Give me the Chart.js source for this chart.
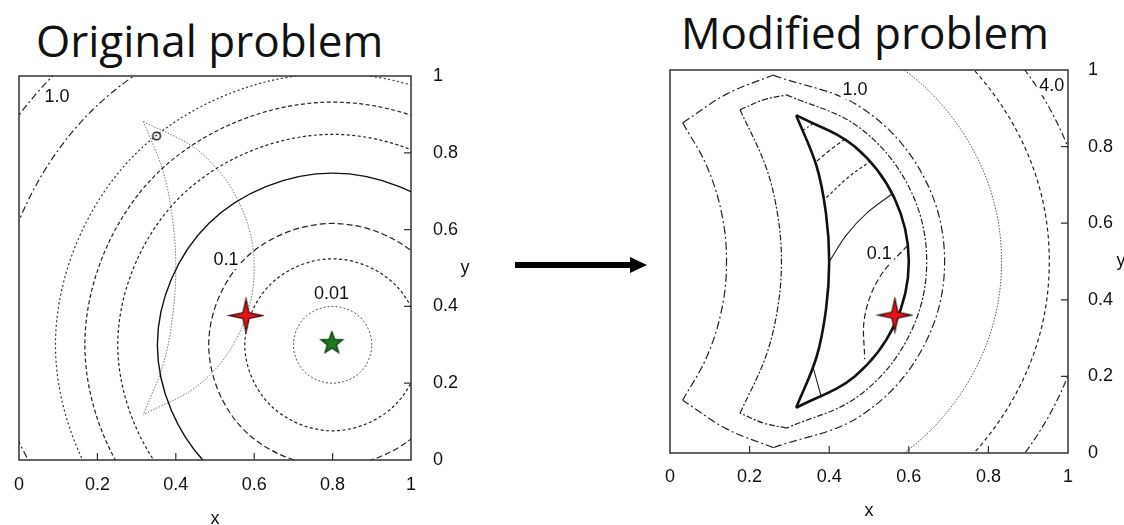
<!DOCTYPE html>
<html>
<head>
<meta charset="utf-8">
<script src="https://cdn.jsdelivr.net/npm/chart.js@4.4.1/dist/chart.umd.min.js"></script>
<style>
  body { margin: 0; width: 1124px; height: 525px; background: #fff; overflow: hidden; position: relative; }
  .title { position: absolute; font-family: "Open Sans", sans-serif; font-size: 44px; line-height: 1; color: #111; white-space: nowrap; }
  canvas { position: absolute; }
  #arrowShaft { position: absolute; left: 515px; top: 262px; width: 118px; height: 6px; background: #000; }
  #arrowHead { position: absolute; left: 630px; top: 257px; width: 0; height: 0;
    border-top: 8px solid transparent; border-bottom: 8px solid transparent; border-left: 17px solid #000; }
</style>
</head>
<body>
<div class="title" style="left:36px; top:18px">Original problem</div>
<div class="title" style="left:681px; top:10px">Modified problem</div>
<div id="arrowShaft"></div><div id="arrowHead"></div>
<canvas id="origChart" width="480" height="475" style="left:0; top:60px"></canvas>
<canvas id="modChart" width="484" height="485" style="left:640px; top:50px"></canvas>

<script>
// axis ticks (same on both panels)
const axisTicks = [0, 0.2, 0.4, 0.6, 0.8, 1];
const axisTickLabels = ["0", "0.2", "0.4", "0.6", "0.8", "1"];

// feasible region (crescent)
const feasibleOuter = [[0.317,0.882],[0.464,0.8],[0.564,0.665],[0.6,0.5],[0.564,0.335],[0.464,0.2],[0.317,0.118]];
const feasibleInner = [[0.317,0.882],[0.368,0.75],[0.392,0.625],[0.4,0.5],[0.392,0.375],[0.368,0.25],[0.317,0.118]];

// original problem: contour lines around the minimum (green star)
const origC001 = [[0.871,0.229],[0.9,0.3],[0.871,0.371],[0.8,0.4],[0.729,0.371],[0.7,0.3],[0.729,0.229],[0.8,0.2],[0.871,0.229],[0.9,0.3],[0.871,0.371]];
const origC005 = [[0.958,0.142],[1.024,0.3],[0.958,0.458],[0.8,0.524],[0.642,0.458],[0.576,0.3],[0.642,0.142],[0.8,0.076],[0.958,0.142],[1.024,0.3],[0.958,0.458]];
const origC01 = [[1.116,0.3],[1.024,0.524],[0.8,0.616],[0.576,0.524],[0.484,0.3],[0.576,0.076],[0.8,-0.016],[1.024,0.076],[1.116,0.3]];
const origC02 = [[1.247,0.3],[1.116,0.616],[0.8,0.747],[0.484,0.616],[0.353,0.3],[0.484,-0.016],[0.8,-0.147]];
const origC03 = [[1.348,0.3],[1.187,0.687],[0.8,0.848],[0.413,0.687],[0.252,0.3],[0.413,-0.087],[0.8,-0.248]];
const origC04 = [[1.432,0.3],[1.247,0.747],[0.8,0.932],[0.353,0.747],[0.168,0.3],[0.353,-0.147],[0.8,-0.332]];
const origC05 = [[1.507,0.3],[1.3,0.8],[0.8,1.007],[0.3,0.8],[0.093,0.3],[0.3,-0.2],[0.8,-0.407]];
const origC075 = [[1.412,0.912],[0.8,1.166],[0.188,0.912],[-0.066,0.3],[0.188,-0.312]];
const origC10 = [[0.8,1.3],[0.093,1.007],[-0.2,0.3],[0.093,-0.407]];

const origLabelText = ["1.0", "0.1", "0.01"];
const origLabelX = [0.097, 0.528, 0.797];
const origLabelY = [0.946, 0.521, 0.432];

const origOptimum = [[0.798, 0.304]];
const origSolution = [[0.579, 0.376]];
const origStart = [[0.351, 0.844]];

// modified problem: contours inside the crescent
const modIn01 = [[0.597,0.542],[0.526,0.458],[0.489,0.355],[0.489,0.245]];
const modIn02a = [[0.402,0.503],[0.443,0.569],[0.495,0.627],[0.556,0.675]];
const modIn02b = [[0.36,0.222],[0.38,0.147]];
const modIn03 = [[0.393,0.667],[0.448,0.72],[0.501,0.76]];
const modIn04 = [[0.369,0.762],[0.402,0.791],[0.437,0.818]];
const modIn05 = [[0.335,0.843],[0.362,0.862]];

// modified problem: contours outside the crescent (two crescent shells)
const shell2Top = [[0.032,0.862],[0.142,0.937],[0.26,0.987]];
const shell2Outer = [[0.26,0.986],[0.479,0.903],[0.634,0.728],[0.69,0.5],[0.634,0.272],[0.479,0.097],[0.26,0.014]];
const shell2Bottom = [[0.26,0.014],[0.142,0.063],[0.032,0.138]];
const shell2Inner = [[0.032,0.862],[0.092,0.75],[0.13,0.625],[0.142,0.5],[0.13,0.375],[0.092,0.25],[0.032,0.138]];

const shell1Top = [[0.176,0.896],[0.235,0.922],[0.293,0.935]];
const shell1Outer = [[0.293,0.935],[0.474,0.851],[0.6,0.695],[0.645,0.5],[0.6,0.305],[0.474,0.149],[0.293,0.065]];
const shell1Bottom = [[0.293,0.065],[0.235,0.078],[0.176,0.104]];
const shell1Inner = [[0.176,0.896],[0.24,0.75],[0.27,0.625],[0.28,0.5],[0.27,0.375],[0.24,0.25],[0.176,0.104]];

// modified problem: far contour arcs
const modArc1 = [[0.2,1.133],[0.5165,1.048],[0.748,0.8165],[0.833,0.5],[0.748,0.1835],[0.5165,-0.048],[0.2,-0.133]];
const modArc2 = [[0.2,1.253],[0.5765,1.152],[0.852,0.8765],[0.953,0.5],[0.852,0.1235],[0.5765,-0.152],[0.2,-0.253]];
const modArc3 = [[0.2,1.353],[0.6265,1.239],[0.939,0.9265],[1.053,0.5],[0.939,0.0735],[0.6265,-0.239],[0.2,-0.353]];

const modLabelText = ["1.0", "0.1", "4.0"];
const modLabelX = [0.465, 0.526, 0.959];
const modLabelY = [0.948, 0.52, 0.958];

const modSolution = [[0.565, 0.36]];

const sansFamily = '"Liberation Sans", Arial, sans-serif';

function xy(list) {
  return list.map(p => ({ x: p[0], y: p[1] }));
}

function curve(list, color, width, dash, wrap) {
  const ds = {
    data: xy(list),
    showLine: true,
    pointRadius: 0,
    borderColor: color,
    borderWidth: width,
    borderDash: dash,
    tension: 0.36,
    fill: false
  };
  if (wrap) {
    // closed loop: hide the two overlap segments so the seam stays smooth
    const last = list.length - 1;
    ds.segment = {
      borderColor: c => (c.p0DataIndex === 0 || c.p1DataIndex === last) ? 'rgba(0,0,0,0)' : undefined
    };
  }
  return ds;
}

function marker(list, style) {
  return { data: xy(list), showLine: false, pointStyle: style, pointRadius: 10 };
}

function starIcon(arms, outerR, innerR, fill, stroke) {
  const size = Math.ceil(outerR * 2 + 4);
  const c = document.createElement('canvas');
  c.width = size;
  c.height = size;
  const g = c.getContext('2d');
  g.translate(size / 2, size / 2);
  g.beginPath();
  for (let i = 0; i < arms * 2; i++) {
    const r = i % 2 ? innerR : outerR;
    const a = -Math.PI / 2 + i * Math.PI / arms;
    g.lineTo(r * Math.cos(a), r * Math.sin(a));
  }
  g.closePath();
  g.fillStyle = fill;
  g.fill();
  g.lineWidth = 1.3;
  g.strokeStyle = stroke;
  g.stroke();
  return c;
}

function ringIcon() {
  const c = document.createElement('canvas');
  c.width = 12;
  c.height = 12;
  const g = c.getContext('2d');
  g.beginPath();
  g.arc(6, 6, 3.8, 0, Math.PI * 2);
  g.lineWidth = 1.5;
  g.strokeStyle = '#222';
  g.stroke();
  return c;
}

const redStar = starIcon(4, 16.5, 4.2, '#e5141b', '#3a0a0a');
const greenStar = starIcon(5, 11.5, 4.8, '#1f7a22', '#0c340d');

const decor = {
  id: 'decor',
  afterDatasetsDraw(chart, args, opts) {
    const { ctx, chartArea: a } = chart;
    const x = chart.scales.x, y = chart.scales.y;
    ctx.save();
    ctx.font = '18px ' + sansFamily;
    ctx.textAlign = 'center';
    ctx.textBaseline = 'middle';
    opts.text.forEach((t, i) => {
      const px = x.getPixelForValue(opts.tx[i]);
      const py = y.getPixelForValue(opts.ty[i]);
      const w = ctx.measureText(t).width + 4;
      ctx.fillStyle = '#fff';
      ctx.fillRect(px - w / 2, py - 9, w, 18);
      ctx.fillStyle = '#111';
      ctx.fillText(t, px, py);
    });
    ctx.strokeStyle = '#333';
    ctx.lineWidth = 1.5;
    ctx.strokeRect(a.left, a.top, a.width, a.height);
    ctx.lineWidth = 1.2;
    ctx.beginPath();
    x.ticks.forEach(t => {
      if (t.value <= 0 || t.value >= 1) return;
      const px = x.getPixelForValue(t.value);
      ctx.moveTo(px, a.bottom);
      ctx.lineTo(px, a.bottom - 7);
    });
    y.ticks.forEach(t => {
      if (t.value <= 0 || t.value >= 1) return;
      const py = y.getPixelForValue(t.value);
      ctx.moveTo(a.right, py);
      ctx.lineTo(a.right - 7, py);
    });
    ctx.stroke();
    ctx.font = '18px ' + sansFamily;
    ctx.fillStyle = '#111';
    ctx.fillText('y', a.right + opts.yGap, (a.top + a.bottom) / 2);
    ctx.restore();
  }
};

function axes(xHeight, yWidth, xPad, yPad, titlePad) {
  const tickFont = { family: sansFamily, size: 18 };
  const setTicks = s => { s.ticks = axisTicks.map(v => ({ value: v })); };
  return {
    x: {
      type: 'linear', min: 0, max: 1,
      afterBuildTicks: setTicks,
      afterFit: s => { s.height = xHeight; s.paddingRight = 0; },
      grid: { display: false, drawTicks: false }, border: { display: false },
      ticks: { padding: xPad, color: '#111', font: tickFont, maxRotation: 0, callback: (v, i) => axisTickLabels[i] },
      title: { display: true, text: 'x', color: '#111', font: { family: sansFamily, size: 18 }, padding: { top: 0, bottom: titlePad } }
    },
    y: {
      type: 'linear', position: 'right', min: 0, max: 1,
      afterBuildTicks: setTicks,
      afterFit: s => { s.width = yWidth; s.paddingTop = 0; s.paddingBottom = 0; },
      grid: { display: false, drawTicks: false }, border: { display: false },
      ticks: { padding: yPad, color: '#111', font: tickFont, callback: (v, i) => axisTickLabels[i] }
    }
  };
}

function baseOptions(pad, scales, decorOpts) {
  return {
    responsive: false,
    animation: false,
    events: [],
    layout: { padding: pad },
    elements: { line: { capBezierPoints: false } },
    plugins: { legend: { display: false }, tooltip: { enabled: false }, decor: decorOpts },
    scales: scales
  };
}

new Chart(document.getElementById('origChart'), {
  type: 'scatter',
  data: {
    datasets: [
      marker(origSolution, redStar),
      marker(origOptimum, greenStar),
      marker(origStart, ringIcon()),
      curve(origC001, '#555', 1, [2, 2], true),
      curve(origC005, '#222', 1.2, [3, 2.5], true),
      curve(origC01, '#222', 1.2, [6, 3]),
      curve(origC02, '#111', 1.4, []),
      curve(origC03, '#222', 1.2, [3, 2.5]),
      curve(origC04, '#222', 1.2, [4, 2.5]),
      curve(origC05, '#333', 1.2, [2, 2.5]),
      curve(origC075, '#222', 1.2, [7, 3, 2, 3]),
      curve(origC10, '#222', 1.2, [7, 3, 2, 3]),
      curve(feasibleOuter, '#777', 1, [1.5, 1.5]),
      curve(feasibleInner, '#777', 1, [1.5, 1.5])
    ]
  },
  options: baseOptions({ left: 13, top: 16, right: 0, bottom: 0 },
    axes(75, 69, 14, 22, 5),
    { text: origLabelText, tx: origLabelX, ty: origLabelY, yGap: 54 }),
  plugins: [decor]
});

new Chart(document.getElementById('modChart'), {
  type: 'scatter',
  data: {
    datasets: [
      marker(modSolution, redStar),
      curve(feasibleOuter, '#111', 2.6, []),
      curve(feasibleInner, '#111', 2.6, []),
      curve(modIn01, '#222', 1.2, [6, 3]),
      curve(modIn02a, '#222', 1.1, []),
      curve(modIn02b, '#222', 1.1, []),
      curve(modIn03, '#222', 1.2, [3, 2.5]),
      curve(modIn04, '#222', 1.2, [4, 2.5]),
      curve(modIn05, '#333', 1.2, [2, 2.5]),
      curve(shell1Top, '#222', 1.2, [6, 2, 2, 2]),
      curve(shell1Outer, '#222', 1.2, [6, 2, 2, 2]),
      curve(shell1Bottom, '#222', 1.2, [6, 2, 2, 2]),
      curve(shell1Inner, '#222', 1.2, [6, 2, 2, 2]),
      curve(shell2Top, '#222', 1.2, [8, 3, 2, 3]),
      curve(shell2Outer, '#222', 1.2, [8, 3, 2, 3]),
      curve(shell2Bottom, '#222', 1.2, [8, 3, 2, 3]),
      curve(shell2Inner, '#222', 1.2, [8, 3, 2, 3]),
      curve(modArc1, '#555', 1, [1.5, 1.5]),
      curve(modArc2, '#222', 1.2, [4, 3]),
      curve(modArc3, '#222', 1.2, [7, 3, 2, 3])
    ]
  },
  options: baseOptions({ left: 30, top: 20, right: 0, bottom: 0 },
    axes(82, 56, 13, 20, 13),
    { text: modLabelText, tx: modLabelX, ty: modLabelY, yGap: 53 }),
  plugins: [decor]
});
</script>
</body>
</html>
